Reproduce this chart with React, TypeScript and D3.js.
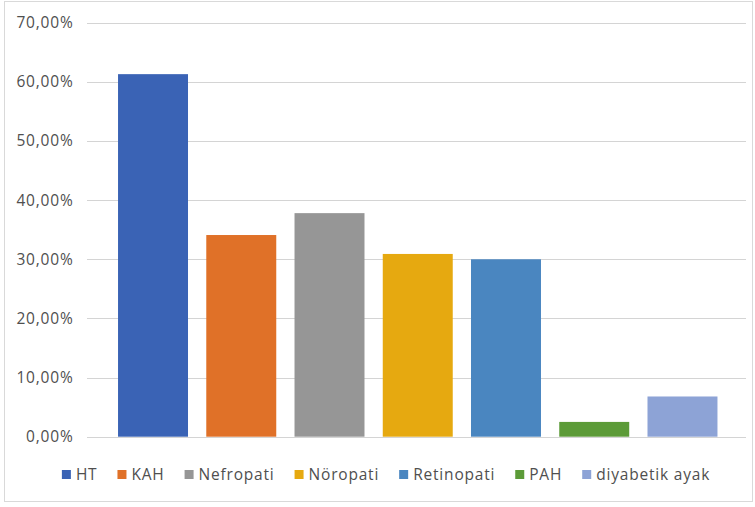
import React, { useEffect, useRef } from "react";
import * as d3 from "d3";

const categories = ["HT", "KAH", "Nefropati", "Nöropati", "Retinopati", "PAH", "diyabetik ayak"];
const values = [61.3, 34.1, 37.8, 30.9, 30.0, 2.5, 6.8];
const colors = ["#3a63b5", "#e07128", "#969696", "#e6a910", "#4a86c0", "#5c9b38", "#8da3d6"];
const yTicks = [0, 10, 20, 30, 40, 50, 60, 70];

const W = 755;
const H = 507;
const FONT = "'Open Sans', 'Liberation Sans', sans-serif";
const FONT_SIZE = 15.5;
const SPACING = 0.8;
const TEXT_COLOR = "#4f4f4f";

export default function App() {
  const ref = useRef<SVGSVGElement>(null);

  useEffect(() => {
    const svg = d3.select(ref.current);
    svg.selectAll("*").remove();

    // chart frame
    svg.append("rect")
      .attr("x", 4.5).attr("y", 1.5)
      .attr("width", 748).attr("height", 500)
      .attr("fill", "#fff").attr("stroke", "#d9d9d9");

    const gridLeft = 87;
    const gridRight = 746;
    const y = d3.scaleLinear().domain([0, 70]).range([436.7, 22.7]);
    const x = d3.scaleBand<string>()
      .domain(categories)
      .range([108.9, 726.6])
      .paddingInner(0.207)
      .paddingOuter(0.1035);

    // gridlines
    svg.append("g").selectAll("line").data(yTicks).join("line")
      .attr("x1", gridLeft).attr("x2", gridRight)
      .attr("y1", d => Math.round(y(d)) + 0.5).attr("y2", d => Math.round(y(d)) + 0.5)
      .attr("stroke", "#d4d4d4").attr("stroke-width", 1.2);

    // tick labels
    const fmt = (d: number) => d.toFixed(2).replace(".", ",") + "%";
    svg.append("g").selectAll("text").data(yTicks).join("text")
      .attr("x", 73.5).attr("y", d => y(d))
      .attr("dy", "0.35em")
      .attr("text-anchor", "end")
      .attr("font-family", FONT).attr("font-size", FONT_SIZE)
      .attr("letter-spacing", SPACING)
      .attr("fill", TEXT_COLOR)
      .text(fmt);

    // bars
    svg.append("g").selectAll("rect").data(values).join("rect")
      .attr("x", (_, i) => x(categories[i])!)
      .attr("width", x.bandwidth())
      .attr("y", d => y(d))
      .attr("height", d => y(0) - y(d))
      .attr("fill", (_, i) => colors[i]);

    // legend
    const lg = svg.append("g");
    const items = lg.selectAll("g").data(categories).join("g");
    items.append("rect")
      .attr("width", 9).attr("height", 9)
      .attr("y", -4.5)
      .attr("fill", (_, i) => colors[i]);
    items.append("text")
      .attr("x", 14).attr("dy", "0.35em")
      .attr("font-family", FONT).attr("font-size", FONT_SIZE)
      .attr("letter-spacing", SPACING)
      .attr("fill", TEXT_COLOR)
      .text(d => d);
    const widths: number[] = [];
    items.each(function () {
      const t = d3.select(this).select("text").node() as SVGTextElement;
      widths.push(14 + t.getComputedTextLength());
    });
    const gap = 20;
    const total = d3.sum(widths) + gap * (widths.length - 1);
    let cx = 386 - total / 2;
    items.attr("transform", (_, i) => {
      const tx = cx;
      cx += widths[i] + gap;
      return `translate(${tx},474.5)`;
    });
  }, []);

  return (
    <div style={{ position: "fixed", left: 0, top: 0 }}>
      <svg ref={ref} width={W} height={H} style={{ display: "block", background: "#fff" }} />
    </div>
  );
}
